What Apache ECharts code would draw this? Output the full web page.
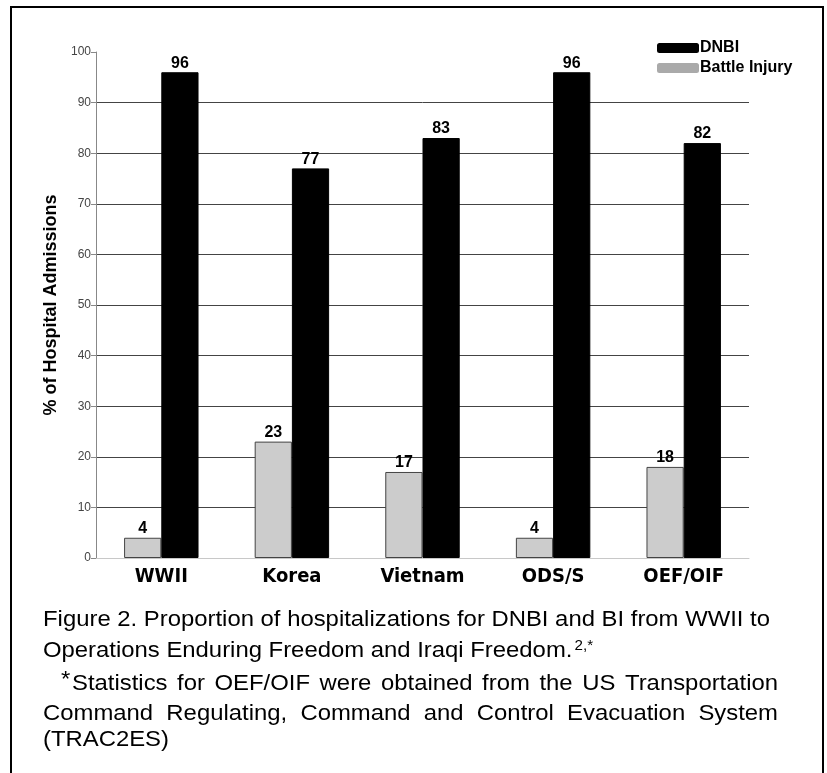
<!DOCTYPE html>
<html>
<head>
<meta charset="utf-8">
<script src="https://cdn.jsdelivr.net/npm/echarts@6/dist/echarts.min.js"></script>
<style>
html,body{margin:0;padding:0;background:#fff;}
#chart{width:827px;height:773px;}
</style>
</head>
<body>
<div id="chart"></div>
<script>
const categories = ['WWII', 'Korea', 'Vietnam', 'ODS/S', 'OEF/OIF'];
const battleInjury = [4, 23, 17, 4, 18];
const dnbi = [96, 77, 83, 96, 82];
const yTicks = [0, 10, 20, 30, 40, 50, 60, 70, 80, 90, 100];
const captionLines = [
  'Figure 2. Proportion of hospitalizations for DNBI and BI from WWII to',
  'Operations Enduring Freedom and Iraqi Freedom.',
  'Statistics for OEF/OIF were obtained from the US Transportation',
  'Command Regulating, Command and Control Evacuation System',
  '(TRAC2ES)'
];

const chart = echarts.init(document.getElementById('chart'), null, {renderer: 'canvas'});
const capSize = 22;
const capFont = capSize + 'px "Liberation Sans", Arial, sans-serif';
const mctx = document.createElement('canvas').getContext('2d');
mctx.font = capFont;
const sx = 727 / mctx.measureText(captionLines[0]).width;
const topOff = Math.round(capSize * 0.85);

function plain(text, x0, baseline) {
  return {type: 'text', x: x0, y: baseline - topOff, scaleX: sx,
    style: {text: text, font: capFont, fill: '#000', verticalAlign: 'top'}};
}
function justified(text, x0, x1, baseline) {
  const words = text.split(' ');
  const widths = words.map(w => mctx.measureText(w).width * sx);
  const total = widths.reduce((a, b) => a + b, 0);
  const gap = words.length > 1 ? (x1 - x0 - total) / (words.length - 1) : 0;
  const out = [];
  let x = x0;
  words.forEach((w, i) => {
    out.push(plain(w, x, baseline));
    x += widths[i] + gap;
  });
  return out;
}

const graphics = [
  {type: 'polyline', shape: {points: [[11, 780], [11, 7], [823, 7], [823, 780]]}, style: {stroke: '#000', lineWidth: 2, fill: null}}
];
graphics.push(...justified(captionLines[0], 43, 770, 628));
graphics.push({type: 'text', x: 43, y: 658 - topOff, scaleX: sx, style: {
  text: captionLines[1] + '{sup|2,*}', font: capFont, fill: '#000', verticalAlign: 'top',
  rich: {sup: {fontSize: 14, fontFamily: 'Liberation Sans', verticalAlign: 'top', padding: [0, 0, 10, 2]}}
}});
graphics.push(plain('*', 61, 688));
graphics.push(...justified(captionLines[2], 72, 778, 692));
graphics.push(...justified(captionLines[3], 43, 778, 722));
graphics.push(plain(captionLines[4], 43, 748));

const option = {
  backgroundColor: '#fff',
  animation: false,
  legend: {
    orient: 'vertical',
    left: 652, top: 35,
    itemWidth: 42, itemHeight: 10, itemGap: 4,
    icon: 'roundRect',
    textStyle: {fontFamily: 'Liberation Sans, Arial', fontWeight: 'bold', fontSize: 16, color: '#000', padding: [0, 0, 0, -4]},
    data: [
      {name: 'DNBI', itemStyle: {color: '#000', borderWidth: 0}},
      {name: 'Battle Injury', itemStyle: {color: '#aaaaaa', borderWidth: 0}}
    ]
  },
  grid: {left: 96, right: 78, top: 52, bottom: 215},
  xAxis: {
    type: 'category',
    data: categories,
    axisLine: {lineStyle: {color: '#c8c8c8', width: 1}},
    axisTick: {show: false},
    axisLabel: {
      margin: 9,
      fontFamily: '"Liberation Sans Narrow", "DejaVu Sans Condensed", "Arial Narrow", sans-serif',
      fontWeight: 'bold', fontSize: 20, color: '#000'
    }
  },
  yAxis: {
    type: 'value',
    min: 0, max: 100, interval: 10,
    name: '% of Hospital Admissions',
    nameLocation: 'middle',
    nameGap: 36,
    nameTextStyle: {fontFamily: 'Liberation Sans, Arial', fontWeight: 'bold', fontSize: 18, color: '#000'},
    axisLine: {show: true, lineStyle: {color: '#888', width: 1}},
    axisTick: {show: true, length: 5, lineStyle: {color: '#888'}},
    axisLabel: {fontFamily: 'Liberation Sans, Arial', fontSize: 12, color: '#444', margin: 5,
      formatter: v => yTicks.includes(v) ? String(v) : ''},
    splitLine: {show: true, showMinLine: false, showMaxLine: false, lineStyle: {color: '#444', width: 1}}
  },
  series: [
    {
      name: 'Battle Injury', type: 'bar', data: battleInjury,
      barGap: '0%', barCategoryGap: '43%',
      itemStyle: {color: '#cccccc', borderColor: '#444', borderWidth: 1},
      label: {show: true, position: 'top', distance: 1, fontFamily: 'Liberation Sans, Arial', fontWeight: 'bold', fontSize: 16, color: '#000'}
    },
    {
      name: 'DNBI', type: 'bar', data: dnbi,
      barGap: '0%', barCategoryGap: '43%',
      itemStyle: {color: '#000', borderColor: '#000', borderWidth: 1},
      label: {show: true, position: 'top', distance: 1, fontFamily: 'Liberation Sans, Arial', fontWeight: 'bold', fontSize: 16, color: '#000'}
    }
  ],
  graphic: graphics
};
chart.setOption(option);
</script>
</body>
</html>
